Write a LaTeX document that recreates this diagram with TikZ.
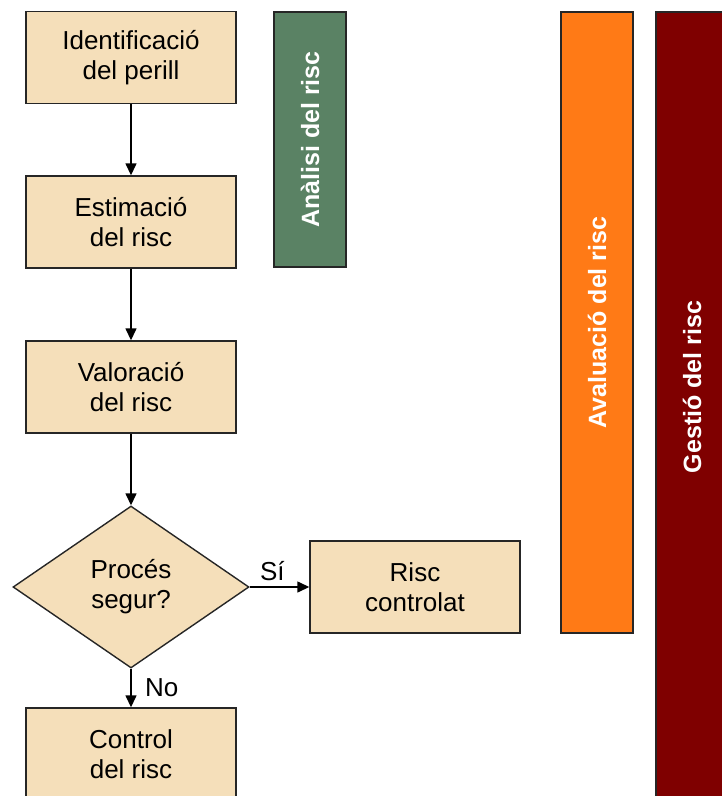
\documentclass[tikz,border=0pt]{standalone}
\usepackage{fontspec}
\setmainfont{Liberation Sans}
\usepackage{tikz}
\usetikzlibrary{positioning,shapes.geometric,arrows.meta}

\definecolor{boxtan}{RGB}{245,223,186}
\definecolor{analisigreen}{RGB}{90,130,100}
\definecolor{avaluaorange}{RGB}{255,122,22}
\definecolor{gestiored}{RGB}{127,0,0}

\tikzset{
    stepbox/.style={draw=black!85, line width=1.4pt, fill=boxtan, minimum width=210pt, minimum height=92pt, align=center, font=\fontsize{26}{30}\selectfont},
    decision/.style={diamond, draw=black!85, line width=1.4pt, fill=boxtan, minimum width=236pt, minimum height=162pt, inner sep=0pt, align=center, font=\fontsize{26}{30}\selectfont},
    phasebar/.style={draw=black!85, line width=1.4pt, minimum width=72pt},
    phasetext/.style={rotate=90, text=white, font=\fontsize{25}{30}\selectfont\bfseries},
    flow/.style={line width=1.4pt, -{Triangle[width=11pt,length=12pt]}},
}

\begin{document}
\begin{tikzpicture}[x=1pt, y=-1pt]
    \useasboundingbox (0,0) rectangle (722,796);
    \clip (0,0) rectangle (722,796);

    % flow chart
    \node[stepbox] (ident) at (131,57.5) {Identificació\\del perill};
    \node[stepbox] (estim) at (131,222) {Estimació\\del risc};
    \node[stepbox] (valor) at (131,387) {Valoració\\del risc};
    \node[decision] (segur) at (131,587) {Procés\\segur?};
    \node[stepbox] (contr) at (415,587) {Risc\\controlat};
    \node[stepbox] (ctrl) at (131,754) {Control\\del risc};

    \draw[flow] (ident) -- (estim);
    \draw[flow] (estim) -- (valor);
    \draw[flow] (valor) -- (segur);
    \draw[flow] (segur.east) -- node[above=2pt, pos=0.38, font=\fontsize{26}{30}\selectfont] (si) {Sí} (contr.west);
    \draw[flow] (segur.south) -- node[right=10pt, font=\fontsize{26}{30}\selectfont] (no) {No} (ctrl.north);

    % phases
    \node[phasebar, fill=analisigreen, minimum height=255pt] (analisi) at (310,139.5) {};
    \node[phasetext] (analisitxt) at (analisi.center) {Anàlisi del risc};
    \node[phasebar, fill=avaluaorange, minimum height=621pt] (avalua) at (597,322.5) {};
    \node[phasetext] (avaluatxt) at (avalua.center) {Avaluació del risc};
    \node[phasebar, fill=gestiored, minimum height=820pt] (gestio) at (692,422) {};
    \node[phasetext] (gestiotxt) at (692,387) {Gestió del risc};
\end{tikzpicture}
\end{document}
